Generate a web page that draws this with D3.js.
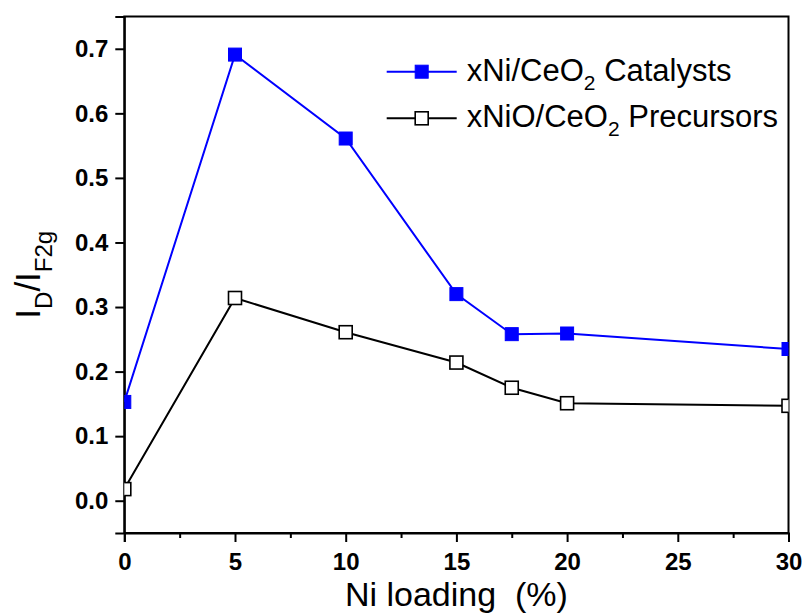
<!DOCTYPE html>
<html>
<head>
<meta charset="utf-8">
<script src="https://cdn.jsdelivr.net/npm/d3@7/dist/d3.min.js"></script>
<style>
  html, body { margin: 0; padding: 0; background: #fff; }
  svg { display: block; font-family: "Liberation Sans", Arial, sans-serif; }
</style>
</head>
<body>
<svg id="chart" width="803" height="614"></svg>
<script>
// Ni loading (%) for each sample
const loading = [0, 5, 10, 15, 17.5, 20, 30];
// I_D / I_F2g ratios
const catalysts = [0.153, 0.691, 0.561, 0.320, 0.258, 0.259, 0.235];
const precursors = [0.018, 0.314, 0.261, 0.214, 0.175, 0.151, 0.147];
const xMajorTicks = [0, 5, 10, 15, 20, 25, 30];
const xMinorTicks = [2.5, 7.5, 12.5, 17.5, 22.5, 27.5];
const yTicks = [0.0, 0.1, 0.2, 0.3, 0.4, 0.5, 0.6, 0.7];

const W = 803, H = 614;
const margin = { top: 16.5, right: 14.5, bottom: 81, left: 124.3 };
const iw = W - margin.left - margin.right;
const ih = H - margin.top - margin.bottom;

const svg = d3.select("#chart");
const g = svg.append("g").attr("transform", `translate(${margin.left},${margin.top})`);

const x = d3.scaleLinear().domain([0, 30]).range([0, iw]);
const y = d3.scaleLinear().domain([-0.05, 0.75]).range([ih, 0]);

svg.append("defs").append("clipPath").attr("id", "plotClip")
  .append("rect").attr("x", 0).attr("y", 0).attr("width", iw).attr("height", ih);

// frame
g.append("rect").attr("x", 0).attr("y", 0).attr("width", iw).attr("height", ih)
  .attr("fill", "none").attr("stroke", "#000").attr("stroke-width", 2);

// x axis: major + minor ticks
g.append("g").attr("transform", `translate(0,${ih})`)
  .call(d3.axisBottom(x).tickValues(xMajorTicks).tickSize(9).tickPadding(11).tickFormat(d3.format("d")));
g.append("g").attr("transform", `translate(0,${ih})`)
  .call(d3.axisBottom(x).tickValues(xMinorTicks).tickSize(5).tickFormat(""))
  .call(s => s.select(".domain").remove());

g.append("g")
  .call(d3.axisLeft(y).tickValues(yTicks).tickSize(9).tickPadding(7).tickFormat(d3.format(".1f")));

svg.selectAll(".domain").attr("stroke-width", 2);
svg.selectAll(".tick line").attr("stroke-width", 2);
svg.selectAll(".tick text").attr("font-family", "Liberation Sans, Arial, sans-serif")
  .attr("font-weight", "bold").attr("font-size", 24).attr("fill", "#000");

// series
const series = [
  { name: "xNi/CeO", tail: " Catalysts", values: catalysts, color: "#0000ff", fill: "#0000ff", strokeW: 1 },
  { name: "xNiO/CeO", tail: " Precursors", values: precursors, color: "#000000", fill: "#ffffff", strokeW: 1.6 }
];

const plot = g.append("g").attr("clip-path", "url(#plotClip)");
const line = d3.line().x((d, i) => x(loading[i])).y(d => y(d));
const MS = 13;

series.forEach(s => {
  plot.append("path").datum(s.values)
    .attr("d", line).attr("fill", "none").attr("stroke", s.color).attr("stroke-width", 2);
  plot.selectAll(null).data(s.values).enter().append("rect")
    .attr("x", (d, i) => x(loading[i]) - MS / 2)
    .attr("y", d => y(d) - MS / 2)
    .attr("width", MS).attr("height", MS)
    .attr("fill", s.fill).attr("stroke", s.color).attr("stroke-width", s.strokeW);
});

// legend
const legend = g.append("g");
const legX0 = 386.7 - margin.left, legX1 = 456.7 - margin.left;
const legRows = [71.7 - margin.top, 118.3 - margin.top];
series.forEach((s, k) => {
  const ly = legRows[k];
  legend.append("line").attr("x1", legX0).attr("x2", legX1).attr("y1", ly).attr("y2", ly)
    .attr("stroke", s.color).attr("stroke-width", 2);
  legend.append("rect").attr("x", (legX0 + legX1) / 2 - MS / 2).attr("y", ly - MS / 2)
    .attr("width", MS).attr("height", MS)
    .attr("fill", s.fill).attr("stroke", s.color).attr("stroke-width", s.strokeW);
  const t = legend.append("text").attr("x", 466.7 - margin.left).attr("y", ly + 9)
    .attr("font-size", 31).attr("fill", "#000");
  t.append("tspan").text(s.name);
  t.append("tspan").attr("font-size", 21).attr("dy", 9).text("2");
  t.append("tspan").attr("dy", -9).style("white-space", "pre").text(s.tail);
});

// x axis title
svg.append("text")
  .attr("x", margin.left + iw / 2).attr("y", 606)
  .attr("text-anchor", "middle").attr("font-size", 34).attr("fill", "#000")
  .style("white-space", "pre")
  .text("Ni loading  (%)");

// y axis title: I_D / I_F2g
const yt = svg.append("text")
  .attr("transform", `translate(40,${margin.top + ih / 2}) rotate(-90)`)
  .attr("text-anchor", "middle").attr("font-size", 35).attr("fill", "#000");
yt.append("tspan").text("I");
yt.append("tspan").attr("font-size", 24).attr("dy", 12).text("D");
yt.append("tspan").attr("dy", -12).text("/I");
yt.append("tspan").attr("font-size", 24).attr("dy", 12).text("F2g");
</script>
</body>
</html>
